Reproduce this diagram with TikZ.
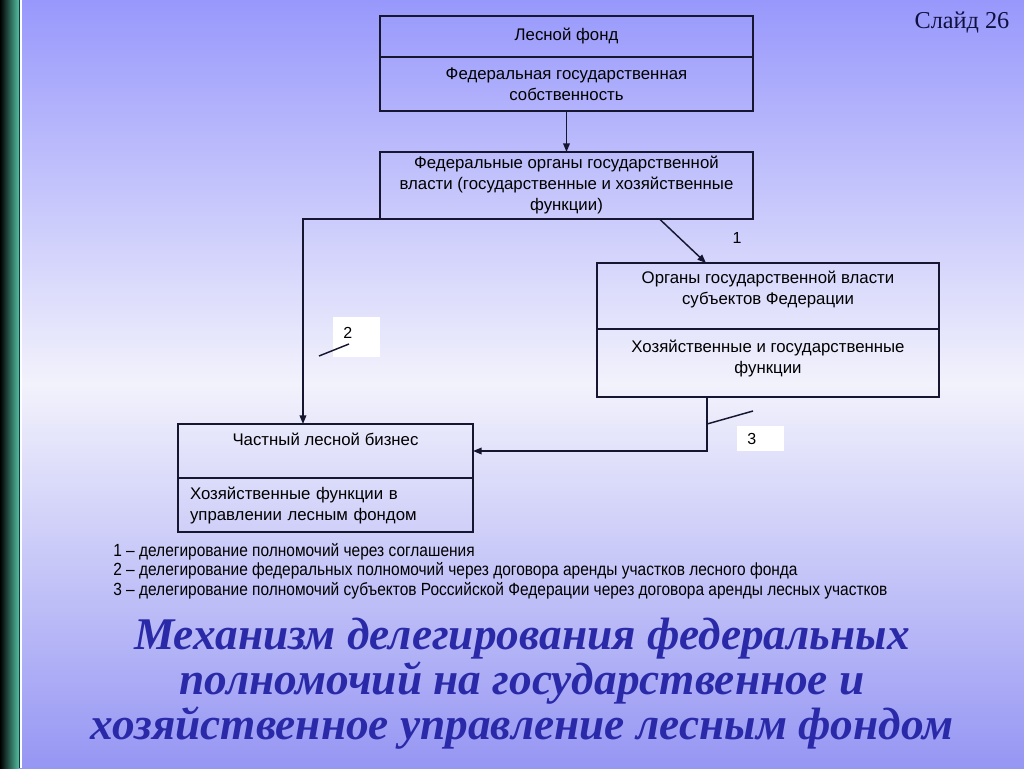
\documentclass[tikz,border=0pt]{standalone}
\usepackage{fontspec}
\setmainfont{Liberation Sans}
\newfontfamily\narrowfont[FakeStretch=0.88]{Liberation Sans}
\newfontfamily\titlefont{Liberation Serif}
\newfontfamily\slidefont{Liberation Serif}
\usepackage{tikz}
\usetikzlibrary{arrows.meta, positioning}
\newlength\px
\setlength\px{0.75pt}
\definecolor{bgtop}{RGB}{152,152,252}
\definecolor{bglight}{RGB}{242,242,252}
\definecolor{bgbottom}{RGB}{150,150,244}
\definecolor{titleblue}{RGB}{42,42,168}
\definecolor{barteal}{RGB}{80,186,158}
\definecolor{bardark}{RGB}{16,60,56}
\definecolor{boxline}{RGB}{22,22,48}
\definecolor{slidenavy}{RGB}{16,16,64}

\begin{document}
\begin{tikzpicture}[x=0.75pt, y=-0.75pt,
    part/.style={draw=boxline, line width=1.3pt, inner sep=2pt, outer sep=0pt, align=center,
        text=black, font=\fontsize{12.6}{15.75}\selectfont},
    arr/.style={-{Triangle[length=6.5pt, width=5pt]}, line width=1.1pt, draw=boxline},
    numbox/.style={fill=white, inner xsep=10\px, inner ysep=0pt, align=left,
        text width=27\px, font=\fontsize{12}{14}\selectfont},
    tick/.style={line width=1.1pt, draw=boxline}]

% Background and side bar
\shade[top color=bgtop, bottom color=bgbottom, middle color=bglight] (0,0) rectangle (1024,768);
\shade[left color=black, right color=barteal] (0,0) rectangle (18.5,768);
\fill[bardark] (18.5,0) rectangle (20.2,768);
\fill[white] (20.2,0) rectangle (22,768);

\node[text=slidenavy, font=\slidefont\fontsize{18.2}{21}\selectfont] (slideNo) at (962,23) {Слайд 26};

% Forest fund
\node[part, minimum width=373\px, minimum height=41\px, anchor=north west, text depth=3pt] (fundTop) at (380,16) {Лесной фонд};
\node[part, minimum width=373\px, minimum height=54\px, anchor=north] (fundBot) at (fundTop.south) {Федеральная государственная\\собственность};

% Federal bodies
\node[part, minimum width=373\px, minimum height=67\px, below=30.75pt of fundBot] (fedOrg)
    {Федеральные органы государственной\\власти (государственные и хозяйственные\\функции)};

% Regional bodies
\node[part, minimum width=342\px, minimum height=66\px, anchor=north west, text depth=12pt] (regTop) at (597,263)
    {Органы государственной власти\\субъектов Федерации};
\node[part, minimum width=342\px, minimum height=68\px, anchor=north, text depth=10pt] (regBot) at (regTop.south)
    {Хозяйственные и государственные\\функции};

% Private forest business
\node[part, minimum width=295\px, minimum height=54\px, anchor=north west, text depth=17pt] (bizTop) at (178,424)
    {Частный лесной бизнес};
\node[part, minimum width=295\px, minimum height=54\px, anchor=north, align=left,
    inner xsep=12\px, text width=271\px] (bizBot) at (bizTop.south)
    {Хозяйственные функции в\\управлении лесным фондом};

% Connections
\draw[arr] (fundBot) -- (fedOrg);
\draw[arr] ([xshift=69.75pt]fedOrg.south) -- ([xshift=-46.5pt]regTop.north);
\draw[arr] (fedOrg.south west) -| ([xshift=-16.9pt]bizTop.north);
\draw[arr] ([xshift=-45.75pt]regBot.south) |- (bizTop.east);

% Path labels
\node[font=\fontsize{12}{14}\selectfont] (lblOne) at (737,238) {1};
\node[numbox, minimum height=40\px, anchor=north west, text depth=7pt] (lblTwo) at (333,317) {2};
\node[numbox, minimum height=25\px, anchor=north west] (lblThree) at (737,426) {3};
\coordinate (tickTwo) at (319,356);
\coordinate (tickThree) at (707,424);
\draw[tick] (tickTwo) -- (349,344);
\draw[tick] (tickThree) -- (753,411);

% Legend
\node[anchor=north west, align=left, inner sep=0pt,
    font=\narrowfont\fontsize{13.2}{14.6}\selectfont] (legend) at (113,543)
    {1 – делегирование полномочий через соглашения\\
     2 – делегирование федеральных полномочий через договора аренды участков лесного фонда\\
     3 – делегирование полномочий субъектов Российской Федерации через договора аренды лесных участков};

% Title
\node[align=center, text=titleblue, font=\titlefont\bfseries\itshape\fontsize{34}{33.75}\selectfont] (title) at (522,684)
    {Механизм делегирования федеральных\\полномочий на государственное и\\хозяйственное управление лесным фондом};
\end{tikzpicture}
\end{document}
